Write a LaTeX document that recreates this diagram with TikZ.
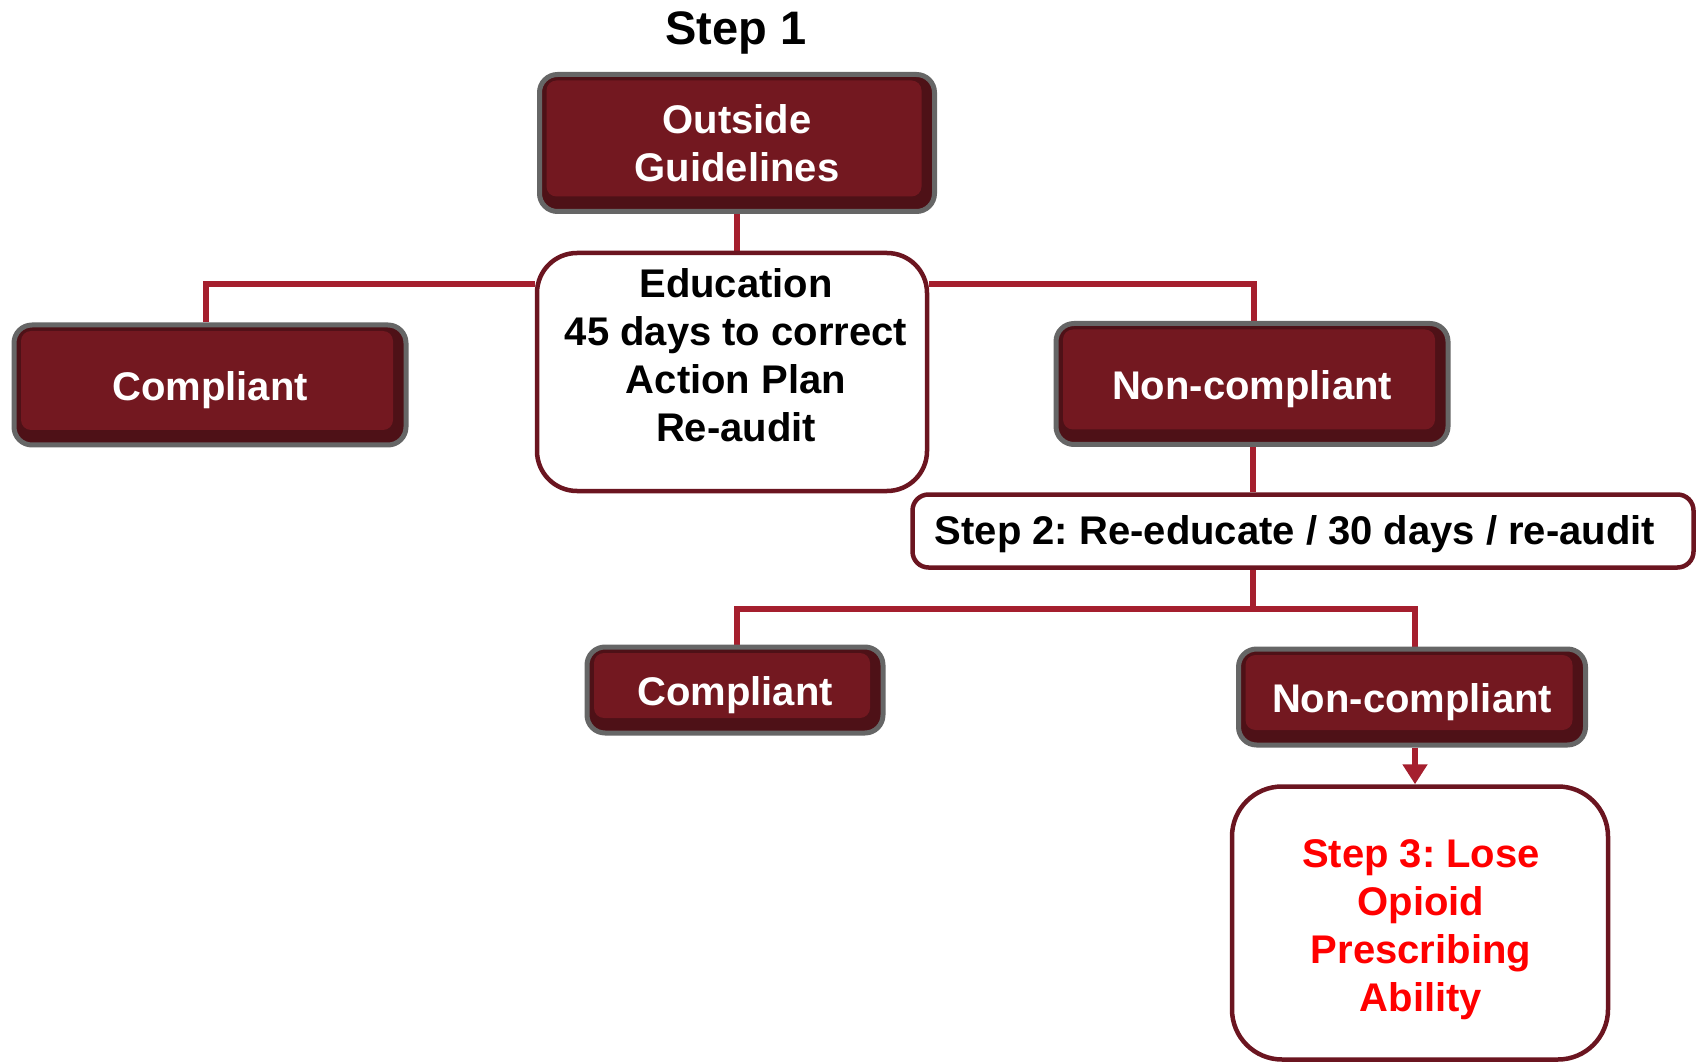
\documentclass[tikz,border=0pt]{standalone}
\usepackage{fontspec}
\setmainfont{Liberation Sans}
\usetikzlibrary{arrows.meta,calc,backgrounds}
\definecolor{boxred}{HTML}{731820}
\definecolor{boxdark}{HTML}{4E1117}
\definecolor{boxgray}{HTML}{666666}
\definecolor{linered}{HTML}{A51F2E}
\definecolor{wborder}{HTML}{6B1520}
\begin{document}
\frenchspacing
\begin{tikzpicture}[x=1pt,y=-1pt,
  darkbox/.style={draw=boxgray, line width=5pt, fill=boxdark, rounded corners=18pt,
    text=white, font=\bfseries\fontsize{40}{48}\selectfont, align=center, inner sep=0pt,
    path picture={\fill[boxred, rounded corners=10pt]
      ([xshift=7pt,yshift=-6pt]path picture bounding box.north west) rectangle
      ([xshift=-13pt,yshift=15pt]path picture bounding box.south east);}},
  oneline/.style={text height=31pt, text depth=0pt},
  whitebox/.style={draw=wborder, line width=4.5pt, fill=white, inner sep=0pt},
  conn/.style={draw=linered, line width=6pt},
  txt/.style={font=\bfseries\fontsize{40}{48}\selectfont, align=center, inner sep=0pt}]
\useasboundingbox (0,0) rectangle (1698,1064);

\node[font=\bfseries\fontsize{47}{56}\selectfont, inner sep=0pt] (title) at (736,33) {Step 1};
\node[darkbox, minimum width=395pt, minimum height=137pt] (og) at (737,143) {Outside\\Guidelines};
\node[whitebox, rounded corners=40pt, minimum width=390pt, minimum height=238pt] (edu) at (732,372) {};
\node[txt] (edutext) at (736,355) {Education\\45 days to correct\\Action Plan\\Re-audit};
\node[darkbox, oneline, minimum width=392pt, minimum height=120pt] (comp1) at (210,385) {Compliant};
\node[darkbox, oneline, minimum width=392pt, minimum height=121pt] (nc1) at (1252,384) {Non-compliant};
\node[whitebox, rounded corners=16pt, minimum width=781pt, minimum height=73pt] (step2) at (1303,531) {};
\node[txt] (step2text) at (1295,534) {Step 2: Re-educate / 30 days / re-audit};
\node[darkbox, oneline, minimum width=296pt, minimum height=86pt] (comp2) at (735,690) {Compliant};
\node[darkbox, oneline, minimum width=347pt, minimum height=96pt] (nc2) at (1412,697) {Non-compliant};
\node[whitebox, rounded corners=50pt, minimum width=376pt, minimum height=273pt] (step3) at (1420,923) {};
\node[txt, text=red] (step3text) at (1421,930) {Step 3: Lose\\Opioid\\Prescribing\\Ability};

\coordinate (j1) at (206,284);
\coordinate (j2) at (1254,284);
\coordinate (j3) at (1253,609);
\coordinate (j4) at (737,609);
\coordinate (j5) at (1415,609);

\begin{pgfonlayer}{background}
\draw[conn] (og.south) -- (og.south |- edu.north);
\draw[conn] (comp1.north -| j1) -- (j1) -- (edu.west |- j1);
\draw[conn] (edu.east |- j2) -- (j2) -- (nc1.north -| j2);
\draw[conn] (nc1.south -| j3) -- (step2.north -| j3);
\draw[conn] (step2.south -| j3) -- (j3);
\draw[conn] (comp2.north -| j4) -- (j4) -- (j5) -- (nc2.north -| j5);
\draw[conn, -{Triangle[length=20pt,width=24pt]}] (nc2.south -| j5) -- (step3.north -| j5);
\end{pgfonlayer}
\end{tikzpicture}
\end{document}
